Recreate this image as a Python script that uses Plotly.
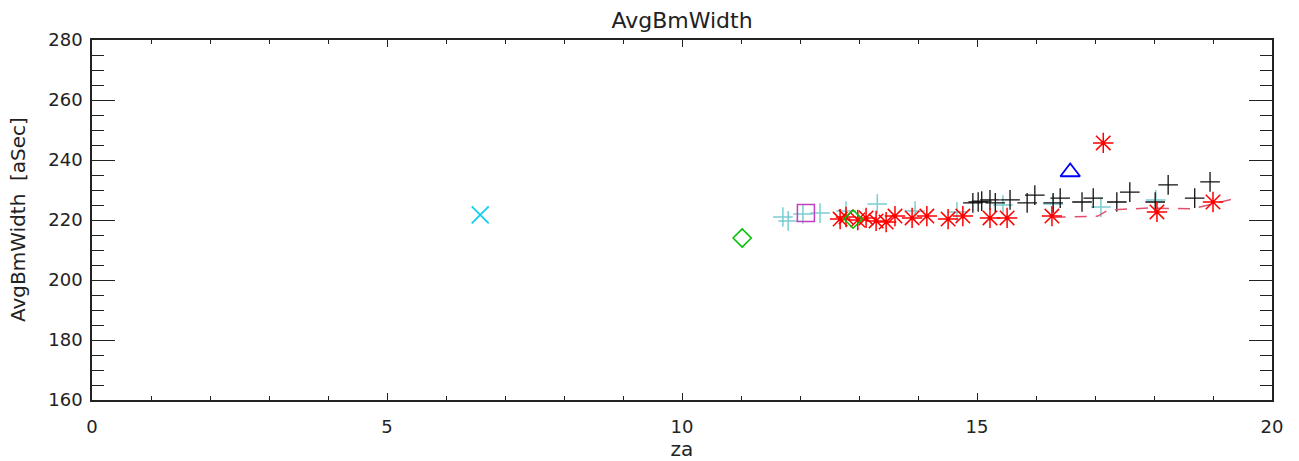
"""AvgBmWidth vs za scatter."""

import plotly.graph_objects as go

# light cyan pluses
cyan_za = [11.71, 11.80, 12.05, 12.34, 12.78, 13.31, 13.95, 14.66, 15.44, 16.29, 17.10, 18.03]
cyan_w = [221.0, 219.7, 222.0, 222.3, 223.0, 225.3, 223.0, 222.7, 225.0, 225.3, 224.3, 226.7]

# black pluses
black_za = [14.93, 15.02, 15.08, 15.22, 15.31, 15.56, 15.85, 15.98, 16.29, 16.41,
            16.78, 16.97, 17.37, 17.59, 18.02, 18.24, 18.69, 18.95]
black_w = [225.7, 226.0, 226.3, 226.7, 225.7, 226.7, 225.7, 228.3, 225.7, 227.3,
           226.0, 227.3, 226.0, 229.3, 226.0, 231.7, 227.3, 232.7]

# red asterisks
red_za = [12.68, 12.78, 12.98, 13.12, 13.29, 13.46, 13.61, 13.90, 14.15, 14.51,
          14.76, 15.22, 15.51, 16.27, 17.14, 18.05, 19.00]
red_w = [220.3, 221.0, 220.0, 220.7, 219.7, 219.3, 221.3, 220.7, 221.3, 220.3,
         221.3, 220.7, 220.7, 221.3, 245.7, 222.7, 226.0]

# dashed trend line
fit_za = [16.30, 17.05, 17.22, 17.90, 18.65, 19.34]
fit_w = [220.9, 221.3, 223.3, 224.0, 223.7, 227.0]

# single markers
x_za, x_w = [6.58], [221.7]
diamond_za, diamond_w = [11.02, 12.90], [214.0, 220.3]
square_za, square_w = [12.10], [222.3]
tri_za, tri_w = [16.58], [236.0]

TEXT = "#222222"
FONT = "DejaVu Sans"


def _pts(x, y, symbol, size, color, width=1.5):
    return go.Scatter(
        x=x, y=y, mode="markers",
        marker=dict(symbol=symbol, size=size, color=color, line=dict(color=color, width=width)),
    )


fig = go.Figure()
fig.add_trace(_pts(cyan_za, cyan_w, "cross-thin-open", 14, "rgba(110,200,205,0.9)", 1.5))
fig.add_trace(_pts(black_za, black_w, "cross-thin-open", 14, "#111111", 1.3))
fig.add_trace(go.Scatter(
    x=fit_za, y=fit_w, mode="lines",
    line=dict(color="#E0506E", width=1.5, dash="12px,9px"),
))
fig.add_trace(_pts(red_za, red_w, "asterisk-open", 17, "#FF0000", 1.5))
fig.add_trace(_pts(x_za, x_w, "x-thin-open", 17, "#10D0F0", 1.8))
fig.add_trace(_pts(diamond_za, diamond_w, "diamond-open", 14, "#00C000", 1.5))
fig.add_trace(_pts(square_za, square_w, "square-open", 17, "#C040C0", 1.5))
fig.add_trace(_pts(tri_za, tri_w, "triangle-up-open", 17, "#0000FF", 1.8))

axis_common = dict(
    showgrid=False, zeroline=False, showline=True, linecolor=TEXT, linewidth=1.5,
    mirror="allticks", ticks="inside", tickcolor=TEXT, tickwidth=1.3, automargin=False,
    tickfont=dict(family=FONT, size=18, color=TEXT),
)
fig.update_xaxes(
    range=[0, 20], dtick=5, tick0=0, ticklen=7, ticklabelstandoff=10,
    minor=dict(dtick=1, ticks="inside", ticklen=4, tickcolor=TEXT, tickwidth=1.3),
    title=dict(text="za", font=dict(family=FONT, size=20, color=TEXT), standoff=6),
    **axis_common,
)
fig.update_yaxes(
    range=[160, 280], dtick=20, tick0=160, ticklen=23, ticklabelstandoff=4,
    minor=dict(dtick=5, ticks="inside", ticklen=12, tickcolor=TEXT, tickwidth=1.3),
    **axis_common,
)
fig.add_annotation(
    text="AvgBmWidth\u00a0 [aSec]", textangle=-90, showarrow=False,
    xref="paper", yref="paper", x=(18 - 92) / 1180, y=0.5,
    xanchor="center", yanchor="middle",
    font=dict(family=FONT, size=20, color=TEXT),
)
fig.update_layout(
    width=1299, height=461,
    margin=dict(l=92, r=27, t=40, b=61),
    paper_bgcolor="white", plot_bgcolor="white",
    showlegend=False,
    title=dict(text="AvgBmWidth", x=0.5, xref="paper", y=0.955, yanchor="middle",
               font=dict(family=FONT, size=22, color=TEXT)),
)

fig.write_html("out.html", config={"displayModeBar": False},
               post_script="document.body.style.margin='0';")
